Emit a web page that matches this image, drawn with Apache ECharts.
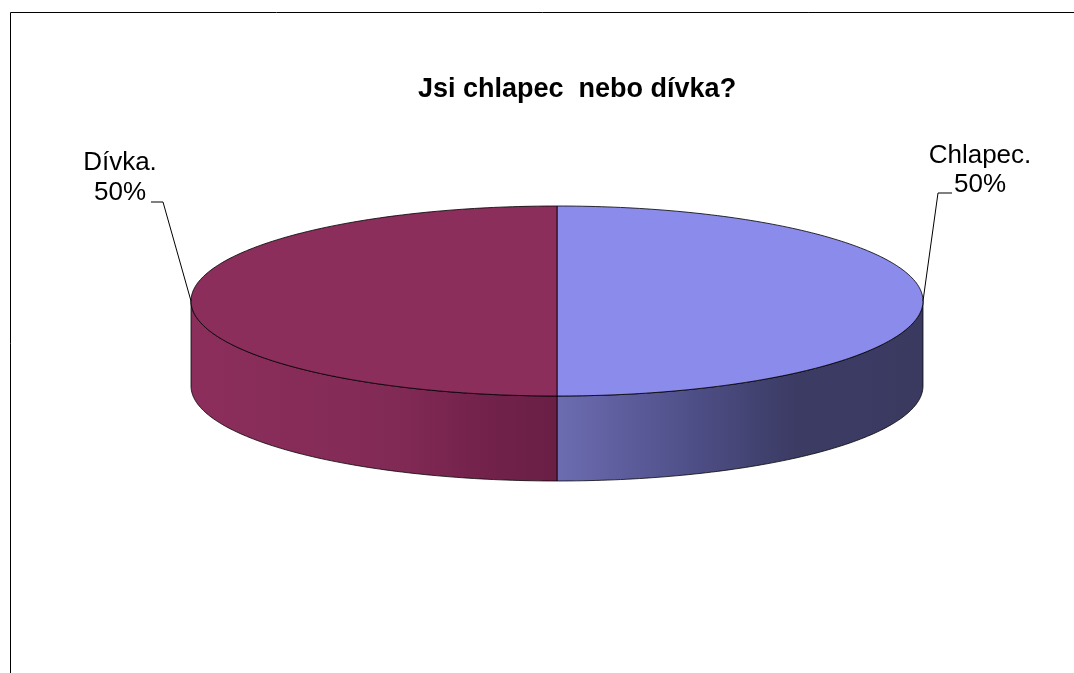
<!DOCTYPE html>
<html>
<head>
<meta charset="utf-8">
<script src="https://cdn.jsdelivr.net/npm/echarts@6/dist/echarts.min.js"></script>
<style>
html,body{margin:0;padding:0;background:#fff;}
#main{width:1074px;height:673px;}
</style>
</head>
<body>
<div id="main"></div>
<script>
// ---- data ----
const titleText = 'Jsi chlapec  nebo dívka?';
const categories = ['Chlapec.', 'Dívka.'];
const values = [50, 50];

// ---- styles ----
const topColors = ['#8b8beb', '#8b2e5b'];
const sideStops = [
  [[0, '#6c6cb2'], [0.35, '#50508a'], [0.65, '#3b3b64'], [1, '#3a3a61']],
  [[0, '#8c2e5c'], [0.55, '#822a56'], [0.8, '#72224b'], [1, '#6a1f45']]
];
// manual label offsets relative to the anchor point (like Excel manual label placement)
const labelLayout = [
  { dx: 57, line1: -145, line2: -116, elbowX: 15, elbowY: -108, endX: 29 },
  { dx: -71, line1: -138, line2: -108, elbowX: -28, elbowY: -99, endX: -40 }
];

const geom = { cx: 557, cy: 301, rx: 366, ry: 95, depth: 85 };

function pt(a, dy) {
  const r = a * Math.PI / 180;
  return [geom.cx + geom.rx * Math.cos(r), geom.cy - geom.ry * Math.sin(r) + (dy || 0)];
}
function arc(a1, a2, dy) {
  const n = Math.max(2, Math.ceil(Math.abs(a2 - a1) / 1));
  const pts = [];
  for (let i = 0; i <= n; i++) pts.push(pt(a1 + (a2 - a1) * i / n, dy));
  return pts;
}

const total = values.reduce((s, v) => s + v, 0);

function renderItem(params, api) {
  const idx = params.dataIndex;
  let start = 90;
  for (let i = 0; i < idx; i++) start -= values[i] / total * 360;
  const end = start - values[idx] / total * 360;
  const hi = start, lo = end;
  const children = [];
  // visible side walls (front half: angles in [-180+360k, 360k])
  for (let k = -1; k <= 1; k++) {
    const a = Math.max(lo, -180 + 360 * k);
    const b = Math.min(hi, 360 * k);
    if (b - a > 0.01) {
      const pts = arc(b, a, 0).concat(arc(a, b, geom.depth));
      children.push({
        type: 'polygon',
        shape: { points: pts },
        style: {
          fill: {
            type: 'linear', x: 0, y: 0, x2: 1, y2: 0,
            colorStops: sideStops[idx].map(s => ({ offset: s[0], color: s[1] }))
          },
          stroke: 'rgba(0,0,0,0.75)', lineWidth: 1
        }
      });
    }
  }
  // top face
  const topPts = [[geom.cx, geom.cy]].concat(arc(hi, lo, 0));
  children.push({
    type: 'polygon',
    shape: { points: topPts },
    style: { fill: topColors[idx], stroke: 'rgba(0,0,0,0.8)', lineWidth: 1 }
  });
  // label + leader line at mid-angle
  const mid = (hi + lo) / 2;
  const anchor = pt(mid, 0);
  const L = labelLayout[idx];
  children.push({
    type: 'polyline',
    shape: { points: [anchor, [anchor[0] + L.elbowX, anchor[1] + L.elbowY], [anchor[0] + L.endX, anchor[1] + L.elbowY]] },
    style: { stroke: '#000', lineWidth: 1, fill: null }
  });
  const pct = Math.round(values[idx] / total * 100) + '%';
  children.push({
    type: 'text',
    style: { text: categories[idx], x: anchor[0] + L.dx, y: anchor[1] + L.line1, align: 'center', verticalAlign: 'middle', font: '26px "Liberation Sans", Arial, sans-serif', fill: '#000' }
  });
  children.push({
    type: 'text',
    style: { text: pct, x: anchor[0] + L.dx, y: anchor[1] + L.line2, align: 'center', verticalAlign: 'middle', font: '26px "Liberation Sans", Arial, sans-serif', fill: '#000' }
  });
  return { type: 'group', children: children };
}

const chart = echarts.init(document.getElementById('main'), null, { renderer: 'canvas' });
chart.setOption({
  backgroundColor: '#fff',
  animation: false,
  title: {
    text: titleText,
    left: 413, top: 71,
    textStyle: { fontFamily: '"Liberation Sans", Arial, sans-serif', fontWeight: 'bold', fontSize: 27, color: '#000' }
  },
  graphic: [{
    type: 'rect', silent: true,
    shape: { x: 10.5, y: 12.5, width: 1100, height: 700 },
    style: { fill: null, stroke: '#000', lineWidth: 1 }
  }],
  series: [{
    type: 'custom',
    coordinateSystem: 'none',
    renderItem: renderItem,
    data: categories.map((c, i) => ({ name: c, value: values[i] }))
  }]
});
</script>
</body>
</html>
